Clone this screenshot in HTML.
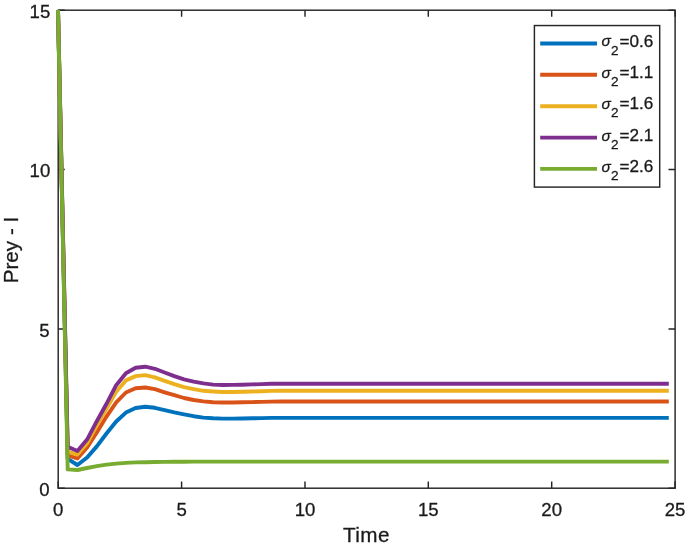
<!DOCTYPE html>
<html><head><meta charset="utf-8"><title>Prey - I</title>
<style>html,body{margin:0;padding:0;background:#fff;}svg{display:block;}text{font-family:"Liberation Sans",Arial,Helvetica,sans-serif;fill:#1a1a1a;stroke:#1a1a1a;stroke-width:0.3px;}</style></head><body>
<svg width="685" height="549" viewBox="0 0 685 549">
<rect width="685" height="549" fill="#fff"/>
<g stroke="#262626" stroke-width="1.45" fill="none" stroke-linecap="butt">
<rect x="58.2" y="10.2" width="616.9" height="478.0"/>
<path d="M58.2,488.2 v-6.6 M58.2,10.2 v6.6"/>
<path d="M181.6,488.2 v-6.6 M181.6,10.2 v6.6"/>
<path d="M305.0,488.2 v-6.6 M305.0,10.2 v6.6"/>
<path d="M428.3,488.2 v-6.6 M428.3,10.2 v6.6"/>
<path d="M551.7,488.2 v-6.6 M551.7,10.2 v6.6"/>
<path d="M675.1,488.2 v-6.6 M675.1,10.2 v6.6"/>
<path d="M58.2,488.2 h6.6 M675.1,488.2 h-6.6"/>
<path d="M58.2,328.9 h6.6 M675.1,328.9 h-6.6"/>
<path d="M58.2,169.5 h6.6 M675.1,169.5 h-6.6"/>
<path d="M58.2,10.2 h6.6 M675.1,10.2 h-6.6"/>
</g>
<g font-size="18.6px">
<text x="58.2" y="516.2" text-anchor="middle">0</text>
<text x="181.6" y="516.2" text-anchor="middle">5</text>
<text x="305.0" y="516.2" text-anchor="middle">10</text>
<text x="428.3" y="516.2" text-anchor="middle">15</text>
<text x="551.7" y="516.2" text-anchor="middle">20</text>
<text x="675.1" y="516.2" text-anchor="middle">25</text>
<text x="49.6" y="495.9" text-anchor="end">0</text>
<text x="49.6" y="336.6" text-anchor="end">5</text>
<text x="50.3" y="177.2" text-anchor="end">10</text>
<text x="50.3" y="17.9" text-anchor="end">15</text>
</g>
<text x="366.4" y="542.2" font-size="20.7px" letter-spacing="0.45" text-anchor="middle">Time</text>
<text transform="translate(18.1,250.0) rotate(-90)" font-size="20.7px" text-anchor="middle">Prey - I</text>
<g fill="none" stroke-width="3.9" stroke-linejoin="round" stroke-linecap="butt">
<path stroke="#0072BD" d="M58.0,10.0 L67.7,458.8 L77.4,465.0 L87.1,457.5 L96.8,446.4 L106.5,433.5 L116.2,421.5 L125.9,412.6 L135.6,408.0 L145.3,406.8 L154.9,407.8 L164.6,410.2 L174.3,412.4 L184.0,414.3 L193.7,416.2 L203.4,417.6 L213.1,418.3 L222.8,418.6 L232.5,418.6 L242.2,418.5 L251.9,418.3 L261.6,418.1 L271.3,417.9 L281.0,417.9 L668.8,417.9"/>
<path stroke="#D95319" d="M58.0,10.0 L67.7,455.3 L77.4,458.5 L87.1,447.4 L96.8,432.4 L106.5,416.6 L116.2,402.3 L125.9,392.5 L135.6,388.2 L145.3,387.5 L154.9,389.2 L164.6,392.3 L174.3,395.2 L184.0,398.0 L193.7,400.0 L203.4,401.4 L213.1,402.2 L222.8,402.5 L232.5,402.5 L242.2,402.3 L251.9,402.1 L261.6,401.9 L271.3,401.6 L281.0,401.5 L668.8,401.5"/>
<path stroke="#EDB120" d="M58.0,10.0 L67.7,451.7 L77.4,454.6 L87.1,443.2 L96.8,425.4 L106.5,408.5 L116.2,391.8 L125.9,380.4 L135.6,376.1 L145.3,375.1 L154.9,377.3 L164.6,380.8 L174.3,384.2 L184.0,387.1 L193.7,389.2 L203.4,390.8 L213.1,391.5 L222.8,392.0 L232.5,392.0 L242.2,391.8 L251.9,391.5 L261.6,391.2 L271.3,390.9 L281.0,390.8 L668.8,390.8"/>
<path stroke="#7E2F8E" d="M58.0,10.0 L67.7,446.8 L77.4,451.0 L87.1,439.6 L96.8,421.2 L106.5,403.8 L116.2,385.2 L125.9,373.2 L135.6,367.8 L145.3,366.7 L154.9,368.8 L164.6,372.5 L174.3,376.1 L184.0,379.4 L193.7,381.6 L203.4,383.4 L213.1,384.6 L222.8,385.0 L232.5,384.9 L242.2,384.7 L251.9,384.4 L261.6,384.1 L271.3,383.8 L281.0,383.7 L668.8,383.7"/>
<path stroke="#77AC30" d="M58.0,10.0 L67.7,469.4 L77.4,470.0 L87.1,468.0 L96.8,466.1 L106.5,464.6 L116.2,463.6 L125.9,462.9 L135.6,462.4 L145.3,462.2 L154.9,462.0 L164.6,461.9 L174.3,461.8 L184.0,461.7 L193.7,461.6 L668.8,461.6"/>
</g>
<rect x="534.4" y="25.55" width="125.3" height="161.55" fill="#fff" stroke="#262626" stroke-width="1.45"/>
<path d="M540.2,43.5 H597" stroke="#0072BD" stroke-width="3.9" fill="none"/>
<text x="601.5" y="46.4" font-size="15.4px" font-style="italic" font-family="'Liberation Sans',Arial,sans-serif">σ</text>
<text x="610.9" y="54.6" font-size="13.6px">2</text>
<text x="619.6" y="46.6" font-size="17.1px">=0.6</text>
<path d="M540.2,74.8 H597" stroke="#D95319" stroke-width="3.9" fill="none"/>
<text x="601.5" y="77.8" font-size="15.4px" font-style="italic" font-family="'Liberation Sans',Arial,sans-serif">σ</text>
<text x="610.9" y="85.9" font-size="13.6px">2</text>
<text x="619.6" y="77.9" font-size="17.1px">=1.1</text>
<path d="M540.2,106.2 H597" stroke="#EDB120" stroke-width="3.9" fill="none"/>
<text x="601.5" y="109.1" font-size="15.4px" font-style="italic" font-family="'Liberation Sans',Arial,sans-serif">σ</text>
<text x="610.9" y="117.3" font-size="13.6px">2</text>
<text x="619.6" y="109.3" font-size="17.1px">=1.6</text>
<path d="M540.2,137.6 H597" stroke="#7E2F8E" stroke-width="3.9" fill="none"/>
<text x="601.5" y="140.5" font-size="15.4px" font-style="italic" font-family="'Liberation Sans',Arial,sans-serif">σ</text>
<text x="610.9" y="148.7" font-size="13.6px">2</text>
<text x="619.6" y="140.7" font-size="17.1px">=2.1</text>
<path d="M540.2,168.9 H597" stroke="#77AC30" stroke-width="3.9" fill="none"/>
<text x="601.5" y="171.8" font-size="15.4px" font-style="italic" font-family="'Liberation Sans',Arial,sans-serif">σ</text>
<text x="610.9" y="180.0" font-size="13.6px">2</text>
<text x="619.6" y="172.0" font-size="17.1px">=2.6</text>
</svg></body></html>
